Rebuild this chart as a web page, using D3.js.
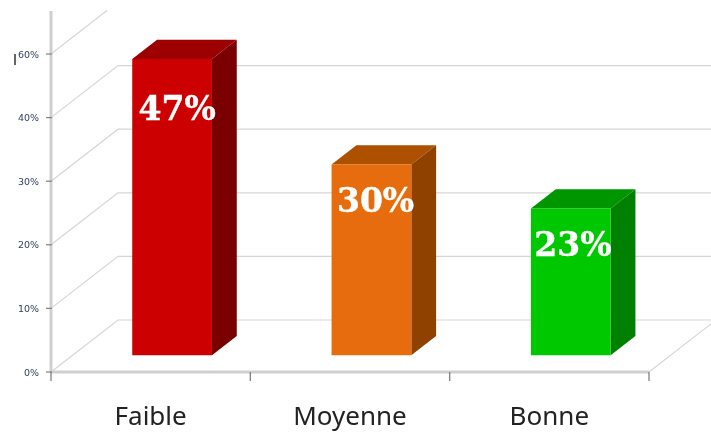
<!DOCTYPE html>
<html>
<head>
<meta charset="utf-8">
<script src="https://cdn.jsdelivr.net/npm/d3@7"></script>
<style>
html, body { margin: 0; padding: 0; background: #fff; }
svg { display: block; }
</style>
</head>
<body>
<div id="chart"></div>
<script>
var categories = ["Faible", "Moyenne", "Bonne"];
var values = [46.6, 30, 23.1]; // bar heights
var valueLabels = ["47%", "30%", "23%"];
var tickValues = [0, 10, 20, 30, 40, 50];
var tickLabels = ["0%", "10%", "20%", "30%", "40%", "60%"]; // the picture really says 60% on the top tick
var frontColors = ["#cc0000", "#e66c0a", "#00c800"];
var sideColors = ["#7a0000", "#8f4306", "#008000"];
var topColors = ["#9c0000", "#ad5105", "#009600"];

var width = 711;
var height = 432;

var svg = d3.select("#chart")
    .append("svg")
    .attr("width", width)
    .attr("height", height);

// slight blur, the original is an upscaled screenshot
svg.append("defs").append("filter")
    .attr("id", "soft")
    .append("feGaussianBlur")
    .attr("stdDeviation", 0.45);

var x = d3.scaleBand().domain(categories).range([51, 649]).paddingInner(0.6).paddingOuter(0.3);
var xEdge = d3.scaleLinear().domain([0, 3]).range([51, 649]);
var y = d3.scaleLinear().domain([0, 50]).range([372, 54]);
var depthX = d3.scaleLinear().domain([0, 1]).range([0, 67]);
var depthY = d3.scaleLinear().domain([0, 1]).range([0, -52]);

var barDepthFront = 0.32;
var barDepthBack = 0.69;

// label nudges from the bar's top left front corner
var labelDx = [45, 44, 42];
var labelDy = [61, 47, 48];

// 3d projection: plot x, value, depth (0 front, 1 back wall)
function pt(px, v, d) {
    return [px + depthX(d), y(v) + depthY(d)];
}
function poly(points) {
    return d3.line()(points) + "Z";
}

var chart = svg.append("g").attr("filter", "url(#soft)");

// gridlines: diagonal on the left wall, then along the back wall
var grid = chart.append("g");
tickValues.forEach(function (t) {
    var topClip = t === 50;
    grid.append("path")
        .attr("fill", "none")
        .attr("stroke", "#d6d6d6")
        .attr("stroke-width", 1.2)
        .attr("d", topClip
            ? d3.line()([pt(51, t, 0), pt(51, t, 0.84)])
            : d3.line()([pt(51, t, 0), pt(51, t, 1), [width, y(t) + depthY(1)]]));
});
// right side of the floor
grid.append("path")
    .attr("fill", "none")
    .attr("stroke", "#d6d6d6")
    .attr("stroke-width", 1.2)
    .attr("d", d3.line()([pt(649, 0, 0), pt(649, 0, 0.93)]));

// axes
chart.append("line")
    .attr("x1", 51).attr("x2", 51)
    .attr("y1", 11).attr("y2", y(0))
    .attr("stroke", "#cfcfcf").attr("stroke-width", 3);
chart.append("line")
    .attr("x1", 50).attr("x2", 649)
    .attr("y1", y(0)).attr("y2", y(0))
    .attr("stroke", "#cfcfcf").attr("stroke-width", 3);

chart.selectAll(".ytick")
    .data(tickValues)
    .enter()
    .append("line")
    .attr("class", "ytick")
    .attr("x1", 46).attr("x2", 52)
    .attr("y1", function (d) { return y(d); })
    .attr("y2", function (d) { return y(d); })
    .attr("stroke", "#808080").attr("stroke-width", 1.2);

chart.selectAll(".xtick")
    .data(d3.range(0, 4))
    .enter()
    .append("line")
    .attr("class", "xtick")
    .attr("x1", function (d) { return xEdge(d); })
    .attr("x2", function (d) { return xEdge(d); })
    .attr("y1", y(0))
    .attr("y2", y(0) + 9)
    .attr("stroke", "#808080").attr("stroke-width", 1.3);

// bars
var bars = chart.selectAll(".bar")
    .data(categories)
    .enter()
    .append("g")
    .attr("class", "bar");

bars.append("path")
    .attr("fill", function (d, i) { return topColors[i]; })
    .attr("d", function (d, i) {
        var l = x(d), r = l + x.bandwidth(), v = values[i];
        return poly([pt(l, v, barDepthFront), pt(r, v, barDepthFront), pt(r, v, barDepthBack), pt(l, v, barDepthBack)]);
    });
bars.append("path")
    .attr("fill", function (d, i) { return sideColors[i]; })
    .attr("d", function (d, i) {
        var r = x(d) + x.bandwidth(), v = values[i];
        return poly([pt(r, 0, barDepthFront), pt(r, v, barDepthFront), pt(r, v, barDepthBack), pt(r, 0, barDepthBack)]);
    });
bars.append("path")
    .attr("fill", function (d, i) { return frontColors[i]; })
    .attr("d", function (d, i) {
        var l = x(d), r = l + x.bandwidth(), v = values[i];
        return poly([pt(l, 0, barDepthFront), pt(r, 0, barDepthFront), pt(r, v, barDepthFront), pt(l, v, barDepthFront)]);
    });

// value labels
bars.append("text")
    .attr("x", function (d, i) { return pt(x(d), 0, barDepthFront)[0] + labelDx[i]; })
    .attr("y", function (d, i) { return pt(0, values[i], barDepthFront)[1] + labelDy[i]; })
    .attr("text-anchor", "middle")
    .attr("font-family", "'DejaVu Serif', serif")
    .attr("font-weight", "bold")
    .attr("font-size", 33)
    .attr("fill", "#fff")
    .attr("stroke", "#fff")
    .attr("stroke-width", 0.4)
    .text(function (d, i) { return valueLabels[i]; });

// tick labels
chart.selectAll(".ylabel")
    .data(tickValues)
    .enter()
    .append("text")
    .attr("class", "ylabel")
    .attr("x", 39)
    .attr("y", function (d) { return y(d) + 3.5; })
    .attr("text-anchor", "end")
    .attr("font-family", "'DejaVu Sans', sans-serif")
    .attr("font-size", 9.5)
    .attr("fill", "#33415e")
    .text(function (d, i) { return tickLabels[i]; });

// stray mark left of the top label
chart.append("line")
    .attr("x1", 15).attr("x2", 15)
    .attr("y1", 54).attr("y2", 65)
    .attr("stroke", "#222").attr("stroke-width", 1.4);

chart.selectAll(".xlabel")
    .data(categories)
    .enter()
    .append("text")
    .attr("class", "xlabel")
    .attr("x", function (d) { return x(d) + x.bandwidth() / 2; })
    .attr("y", 425)
    .attr("text-anchor", "middle")
    .attr("font-family", "'Noto Sans', sans-serif")
    .attr("font-size", 26)
    .attr("fill", "#222")
    .text(function (d) { return d; });
</script>
</body>
</html>
